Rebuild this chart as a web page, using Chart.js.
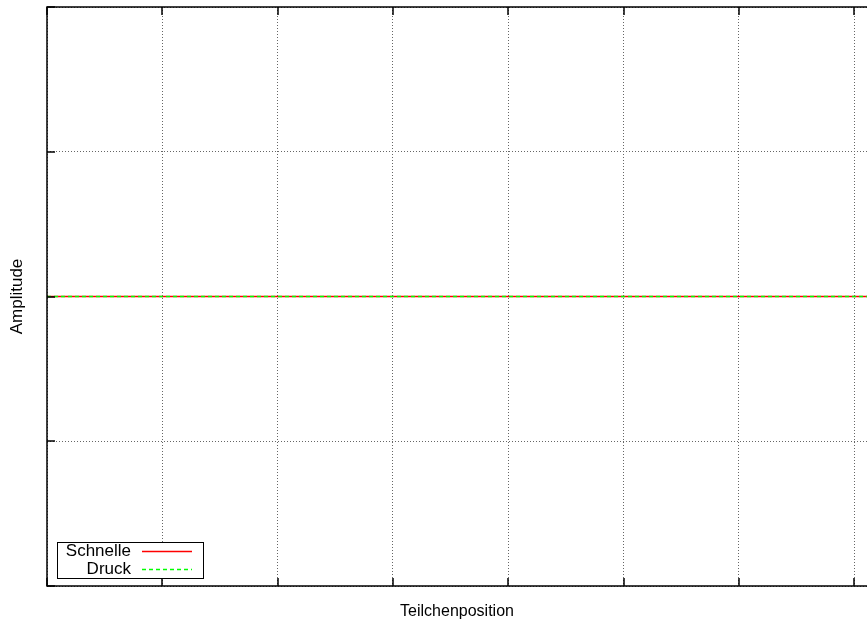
<!DOCTYPE html>
<html>
<head>
<meta charset="utf-8">
<script src="https://cdn.jsdelivr.net/npm/chart.js@4.4.0/dist/chart.umd.min.js"></script>
<style>
  html, body { margin: 0; padding: 0; background: #fff; overflow: hidden; }
  #wrap { width: 867px; height: 626px; }
</style>
</head>
<body>
<div id="wrap"><canvas id="wellenChart" width="867" height="626"></canvas></div>
<script>
// particle positions along x and both amplitudes (flat at zero in the picture)
const teilchenposition = [0, 1, 2, 3, 4, 5, 6, 7, 7.11];
const schnelle = [0, 0, 0, 0, 0, 0, 0, 0, 0];
const druck = [0, 0, 0, 0, 0, 0, 0, 0, 0];
const seriesNames = ["Schnelle", "Druck"];
const xTicks = [0, 1, 2, 3, 4, 5, 6, 7];
const yTicks = [-1, -0.5, 0, 0.5, 1];

const FONT = "'Liberation Sans', Arial, Helvetica, sans-serif";
const RED = "#ff0000";
const GREEN = "#00ff00";
const keyStyles = [
    { color: RED, dash: [] },
    { color: GREEN, dash: [4, 3] }
];

// frame, inner tick marks and gnuplot-style key
const gnuplotFrame = {
    id: "gnuplotFrame",
    afterDraw(chart) {
        const ctx = chart.ctx;
        const a = chart.chartArea;
        const xs = chart.scales.x, ys = chart.scales.y;
        const L = Math.round(a.left), T = Math.round(a.top), B = Math.round(a.bottom);
        ctx.save();
        ctx.setLineDash([]);
        ctx.strokeStyle = "#000";
        ctx.lineWidth = 1.5;
        ctx.beginPath();
        ctx.moveTo(a.right + 2, T); ctx.lineTo(L, T); ctx.lineTo(L, B); ctx.lineTo(a.right + 2, B);
        ctx.stroke();
        ctx.beginPath();
        xs.ticks.forEach(t => {
            const px = Math.round(xs.getPixelForValue(t.value));
            ctx.moveTo(px, B); ctx.lineTo(px, B - 8);
            ctx.moveTo(px, T); ctx.lineTo(px, T + 8);
        });
        ys.ticks.forEach(t => {
            const py = Math.round(ys.getPixelForValue(t.value));
            ctx.moveTo(L, py); ctx.lineTo(L + 8, py);
        });
        ctx.stroke();

        // key box
        ctx.lineWidth = 1;
        ctx.fillStyle = "#fff";
        ctx.fillRect(57.5, 542.5, 146, 36);
        ctx.strokeStyle = "#000";
        ctx.strokeRect(57.5, 542.5, 146, 36);
        ctx.font = "17px " + FONT;
        ctx.textAlign = "right";
        ctx.textBaseline = "alphabetic";
        seriesNames.forEach((name, i) => {
            const base = 556 + i * 18;
            ctx.fillStyle = "#000";
            ctx.fillText(name, 131, base);
            ctx.beginPath();
            ctx.setLineDash(keyStyles[i].dash);
            ctx.strokeStyle = keyStyles[i].color;
            ctx.lineWidth = 1.3;
            ctx.moveTo(142, base - 4.5);
            ctx.lineTo(192, base - 4.5);
            ctx.stroke();
        });
        ctx.restore();
    }
};

const ctx = document.getElementById("wellenChart").getContext("2d");
new Chart(ctx, {
    type: "line",
    data: {
        datasets: [
            {
                label: seriesNames[0],
                data: teilchenposition.map((x, i) => ({ x: x, y: schnelle[i] })),
                borderColor: RED, borderWidth: 1.3, pointRadius: 0, fill: false, order: 1
            },
            {
                label: seriesNames[1],
                data: teilchenposition.map((x, i) => ({ x: x, y: druck[i] })),
                borderColor: GREEN, borderWidth: 1.3, borderDash: [4, 3], pointRadius: 0, fill: false, order: 0
            }
        ]
    },
    options: {
        responsive: false,
        animation: false,
        layout: { padding: { top: 7, right: 0, left: 0, bottom: 0 } },
        plugins: { legend: { display: false }, tooltip: { enabled: false } },
        scales: {
            x: {
                type: "linear", min: 0, max: 7.11,
                afterBuildTicks: s => { s.ticks = xTicks.map(v => ({ value: v })); },
                afterFit: s => { s.height = 40; },
                ticks: { display: false },
                grid: { color: "#666", lineWidth: 1, drawTicks: false },
                border: { display: false, dash: [1, 2] },
                title: { display: true, text: "Teilchenposition", color: "#000",
                         font: { family: FONT, size: 16 }, padding: { top: 0, bottom: 5 } }
            },
            y: {
                min: -1, max: 1,
                afterBuildTicks: s => { s.ticks = yTicks.map(v => ({ value: v })); },
                afterFit: s => { s.width = 47; },
                ticks: { display: false },
                grid: { color: "#666", lineWidth: 1, drawTicks: false },
                border: { display: false, dash: [1, 2] },
                title: { display: true, text: "Amplitude", color: "#000",
                         font: { family: FONT, size: 17 }, padding: { top: 7, bottom: 0 } }
            }
        }
    },
    plugins: [gnuplotFrame]
});
</script>
</body>
</html>
